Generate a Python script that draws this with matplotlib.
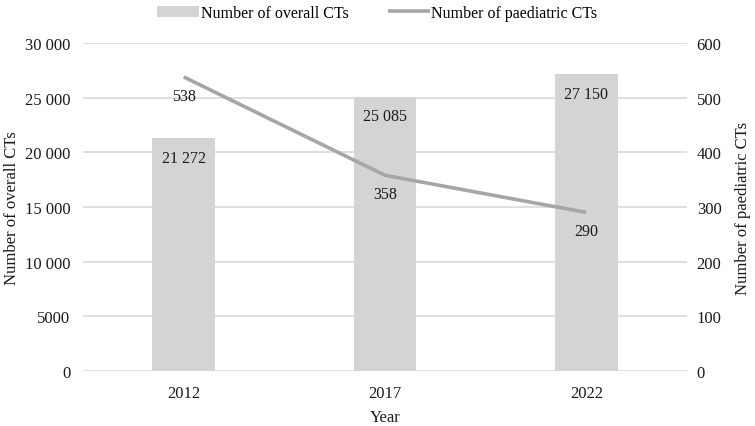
import matplotlib
matplotlib.use("Agg")
import matplotlib.pyplot as plt
from matplotlib.ticker import FuncFormatter

plt.rcParams['font.family'] = ['Liberation Serif', 'DejaVu Serif']

years = ["2012", "2017", "2022"]
overall_cts = [21272, 25085, 27150]
paediatric_cts = [538, 358, 290]
left_ticks = [0, 5000, 10000, 15000, 20000, 25000, 30000]
right_ticks = [0, 100, 200, 300, 400, 500, 600]

def fmt_space(v):
    v = int(round(v))
    if v >= 10000:
        return f"{v:,}".replace(",", " ")
    return str(v)

fig = plt.figure(figsize=(7.55, 4.27), dpi=100)
ax = fig.add_axes([83/755, 1-372/427, (687-83)/755, (372-44)/427])
ax2 = ax.twinx()

x = list(range(len(years)))
bar_color = "#d4d4d4"
line_color = "#a6a6a6"
grid_color = "#d9d9d9"
txt = '#1a1a1a'

ax.set_ylim(0, 30000)
ax.set_yticks(left_ticks)
ax.yaxis.set_major_formatter(FuncFormatter(lambda v, p: fmt_space(v)))
ax.grid(axis='y', color=grid_color, linewidth=1.2)
ax.set_axisbelow(True)
bars = ax.bar(x, overall_cts, width=0.31, color=bar_color, zorder=2, label="Number of overall CTs")
ax.set_xlim(-0.5, 2.5)
ax.set_xticks(x)
ax.set_xticklabels(years)

for xi, v in zip(x, overall_cts):
    ax.annotate(fmt_space(v), (xi, v), xytext=(0, -14), textcoords='offset points',
                ha='center', va='center', fontsize=11.5, color=txt)

ax2.set_ylim(0, 600)
ax2.set_yticks(right_ticks)
line, = ax2.plot(x, paediatric_cts, color=line_color, linewidth=2.6, zorder=3,
                 solid_capstyle='butt', label="Number of paediatric CTs")
for xi, v in zip(x, paediatric_cts):
    ax2.annotate(str(v), (xi, v), xytext=(0, -13.5), textcoords='offset points',
                 ha='center', va='center', fontsize=11.5, color=txt)

for a in (ax, ax2):
    for s in a.spines.values():
        s.set_visible(False)
    a.tick_params(length=0, labelsize=12, colors=txt)
ax.tick_params(axis='y', pad=9)
ax2.tick_params(axis='y', pad=7)
ax.tick_params(axis='x', pad=10)

ax.set_xlabel("Year", fontsize=12, color=txt)
ax.set_ylabel("Number of overall CTs", fontsize=12, color=txt)
ax2.set_ylabel("Number of paediatric CTs", fontsize=12, color=txt, rotation=90)
ax.xaxis.set_label_coords(0.5, (372-410)/328)
ax.yaxis.set_label_coords((20-83)/604, 0.5)
ax2.yaxis.set_label_coords((735-83)/604, 0.5)

fig.legend([bars, line], ["Number of overall CTs", "Number of paediatric CTs"],
           loc='upper center', bbox_to_anchor=(0.5, 1.02), ncol=2, frameon=False,
           fontsize=11.5, handlelength=2.6, handletextpad=0.1, columnspacing=2.5)

fig.savefig("out.png", dpi=100)
